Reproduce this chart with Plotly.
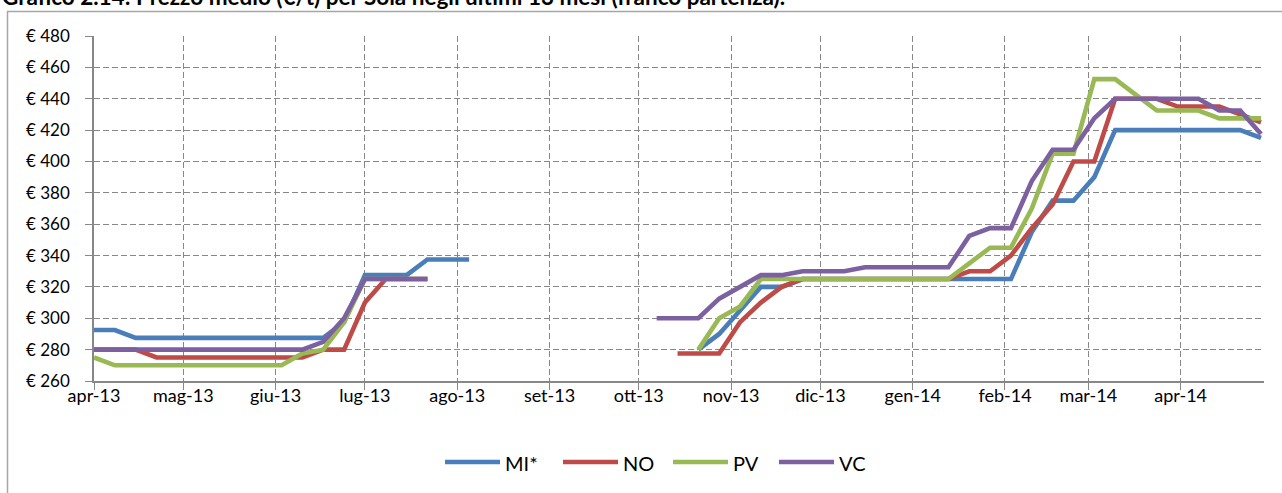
import pandas as pd
import plotly.graph_objects as go

# ---- data ----
dates = pd.date_range("2013-04-01", periods=57, freq="7D")
N = None

mi = [292.5, 292.5] + [287.5] * 10 + [297.5, 327.5, 327.5, 327.5, 337.5, 337.5, 337.5] \
     + [N] * 10 + [280, 290, 305, 320, 320, 325] + [325] * 10 \
     + [355, 375, 375, 390] + [420] * 7 + [415]

no = [280] * 3 + [275] * 8 + [280, 280, 310, 325, 325, 325] + [N] * 11 \
     + [277.5, 277.5, 277.5, 297.5, 310, 320, 325] + [325] * 7 \
     + [330, 330, 340, 357.5, 372.5, 400, 400, 440, 440, 440, 435, 435, 435, 430, 425]

pv = [275] + [270] * 9 + [277.5, 280, 297.5] + [325] * 4 + [N] * 12 \
     + [280, 300, 307.5, 325] + [325] * 9 \
     + [335, 345, 345, 370, 405, 405, 452.5, 452.5, 442.5, 432.5, 432.5, 432.5, 427.5, 427.5, 427.5]

vc = [280] * 11 + [285, 300] + [325] * 4 + [N] * 10 \
     + [300, 300, 300, 312.5, 320, 327.5, 327.5, 330, 330, 330] + [332.5] * 5 \
     + [352.5, 357.5, 357.5, 387.5, 407.5, 407.5, 427.5] + [440] * 5 + [432.5, 432.5, 417.5]

series_names = ["MI*", "NO", "PV", "VC"]
series_values = [mi, no, pv, vc]
colors = ["#4A7EBB", "#BE4B48", "#98B954", "#7D60A0"]

month_starts = pd.date_range("2013-04-01", "2014-04-01", freq="MS")
month_labels = ["apr-13", "mag-13", "giu-13", "lug-13", "ago-13", "set-13", "ott-13",
                "nov-13", "dic-13", "gen-14", "feb-14", "mar-14", "apr-14"]

title_text = "Grafico 2.14: Prezzo medio (€/t) per Soia negli ultimi 13 mesi (franco partenza)."

# ---- figure ----
W, H = 1282, 493
ml, mr, mt, mb = 94, 18, 36, 112
pw, ph = W - ml - mr, H - mt - mb


def px_x(p):
    return (p - ml) / pw


def px_y(p):
    return (H - mb - p) / ph


fig = go.Figure()
for name, vals, col in zip(series_names, series_values, colors):
    fig.add_trace(go.Scatter(
        x=dates, y=vals, name=name, mode="lines",
        line=dict(color=col, width=4.6), connectgaps=False,
    ))

FONT = "Lato, 'Liberation Sans', sans-serif"
grid_col = "#878787"

# manual legend (wide line samples like the original)
legend_line_x0 = [445, 563, 673, 779]
legend_y = 462
shapes = [dict(type="rect", xref="paper", yref="paper",
               x0=px_x(7.5), x1=px_x(1300), y0=px_y(510), y1=px_y(11.5),
               line=dict(color="#A6A6A6", width=1.5), layer="below")]
annotations = [dict(text="<b>" + title_text + "</b>", xref="paper", yref="paper",
                    x=px_x(0), xanchor="left", y=px_y(-3.5), yanchor="middle",
                    showarrow=False, font=dict(size=22.5, family=FONT, color="black"))]
for name, col, x0 in zip(series_names, colors, legend_line_x0):
    shapes.append(dict(type="line", xref="paper", yref="paper",
                       x0=px_x(x0), x1=px_x(x0 + 55), y0=px_y(legend_y), y1=px_y(legend_y),
                       line=dict(color=col, width=4.6)))
    annotations.append(dict(text=name, xref="paper", yref="paper",
                            x=px_x(x0 + 58), xanchor="left", y=px_y(legend_y + 1), yanchor="middle",
                            showarrow=False, font=dict(size=20, family=FONT, color="black")))

fig.update_layout(
    width=W, height=H,
    margin=dict(l=ml, r=mr, t=mt, b=mb),
    paper_bgcolor="white", plot_bgcolor="white",
    font=dict(family=FONT, size=18, color="black"),
    showlegend=False,
    xaxis=dict(
        type="date",
        range=["2013-04-01", "2014-04-29"],
        tickvals=list(month_starts), ticktext=month_labels,
        showgrid=True, gridcolor=grid_col, gridwidth=1.3, griddash="6px,3px",
        showline=True, linecolor=grid_col, linewidth=1.5,
        ticks="", tickfont=dict(size=18), ticklabelstandoff=-2,
        minor=dict(tickvals=list(month_starts), ticks="outside", ticklen=7,
                   tickcolor=grid_col, tickwidth=1.3, showgrid=False),
        zeroline=False,
    ),
    yaxis=dict(
        range=[260, 480], dtick=20, tick0=260, tickprefix="€ ",
        showgrid=True, gridcolor=grid_col, gridwidth=1.3, griddash="6px,3px",
        showline=True, linecolor=grid_col, linewidth=1.5,
        ticks="outside", ticklen=7, tickcolor=grid_col, tickwidth=1.3,
        tickfont=dict(size=17), ticklabelstandoff=12,
        zeroline=False,
    ),
    shapes=shapes,
    annotations=annotations,
)

fig.write_html("out.html", config={"displayModeBar": False},
               post_script="document.body.style.margin='0';")
